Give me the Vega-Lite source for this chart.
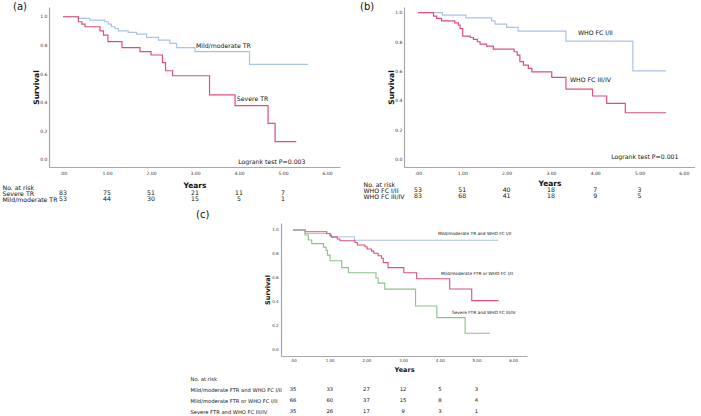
{
  "$schema": "https://vega.github.io/schema/vega-lite/v6.json",
  "padding": {"left": 2, "top": 2, "right": 0, "bottom": 0},
  "config": {
    "view": {"stroke": null},
    "font": "DejaVu Sans",
    "axis": {"domainColor": "#a8a8a8", "domainWidth": 1.2, "ticks": false, "grid": false, "labelColor": "#333", "titleColor": "#111", "labelFont": "DejaVu Sans", "titleFont": "DejaVu Sans", "labelOverlap": false, "labelFlush": false},
    "text": {"font": "DejaVu Sans", "color": "#111"},
    "title": {"font": "DejaVu Sans", "fontWeight": "normal", "color": "#111", "frame": "group"},
    "range": {"category": ["#a9c4ea", "#de4f79", "#a9c4ea", "#de4f79", "#a9c4ea", "#de4f79", "#8fbf8b"]}
  },
  "datasets": {
    "curves": [
      {"panel": "a", "group": "Mild/moderate TR", "t": 0, "s": 1.0},
      {"panel": "a", "group": "Mild/moderate TR", "t": 0.35, "s": 0.989},
      {"panel": "a", "group": "Mild/moderate TR", "t": 0.61, "s": 0.977},
      {"panel": "a", "group": "Mild/moderate TR", "t": 0.95, "s": 0.965},
      {"panel": "a", "group": "Mild/moderate TR", "t": 1.03, "s": 0.949},
      {"panel": "a", "group": "Mild/moderate TR", "t": 1.10, "s": 0.93},
      {"panel": "a", "group": "Mild/moderate TR", "t": 1.18, "s": 0.918},
      {"panel": "a", "group": "Mild/moderate TR", "t": 1.26, "s": 0.902},
      {"panel": "a", "group": "Mild/moderate TR", "t": 1.48, "s": 0.891},
      {"panel": "a", "group": "Mild/moderate TR", "t": 1.67, "s": 0.879},
      {"panel": "a", "group": "Mild/moderate TR", "t": 1.90, "s": 0.856},
      {"panel": "a", "group": "Mild/moderate TR", "t": 2.17, "s": 0.837},
      {"panel": "a", "group": "Mild/moderate TR", "t": 2.43, "s": 0.814},
      {"panel": "a", "group": "Mild/moderate TR", "t": 2.58, "s": 0.784},
      {"panel": "a", "group": "Mild/moderate TR", "t": 3.00, "s": 0.756},
      {"panel": "a", "group": "Mild/moderate TR", "t": 4.24, "s": 0.668},
      {"panel": "a", "group": "Mild/moderate TR", "t": 5.57, "s": 0.668},
      {"panel": "a", "group": "Severe TR", "t": 0, "s": 1.0},
      {"panel": "a", "group": "Severe TR", "t": 0.35, "s": 0.965},
      {"panel": "a", "group": "Severe TR", "t": 0.43, "s": 0.949},
      {"panel": "a", "group": "Severe TR", "t": 0.50, "s": 0.93},
      {"panel": "a", "group": "Severe TR", "t": 0.84, "s": 0.902},
      {"panel": "a", "group": "Severe TR", "t": 0.92, "s": 0.872},
      {"panel": "a", "group": "Severe TR", "t": 1.02, "s": 0.826},
      {"panel": "a", "group": "Severe TR", "t": 1.34, "s": 0.784},
      {"panel": "a", "group": "Severe TR", "t": 1.75, "s": 0.756},
      {"panel": "a", "group": "Severe TR", "t": 2.00, "s": 0.733},
      {"panel": "a", "group": "Severe TR", "t": 2.26, "s": 0.68},
      {"panel": "a", "group": "Severe TR", "t": 2.33, "s": 0.623},
      {"panel": "a", "group": "Severe TR", "t": 2.49, "s": 0.588},
      {"panel": "a", "group": "Severe TR", "t": 3.33, "s": 0.454},
      {"panel": "a", "group": "Severe TR", "t": 3.91, "s": 0.379},
      {"panel": "a", "group": "Severe TR", "t": 4.66, "s": 0.256},
      {"panel": "a", "group": "Severe TR", "t": 4.82, "s": 0.128},
      {"panel": "a", "group": "Severe TR", "t": 5.30, "s": 0.128},
      {"panel": "b", "group": "WHO FC I/II", "t": 0, "s": 1.0},
      {"panel": "b", "group": "WHO FC I/II", "t": 0.55, "s": 0.984},
      {"panel": "b", "group": "WHO FC I/II", "t": 1.08, "s": 0.965},
      {"panel": "b", "group": "WHO FC I/II", "t": 1.66, "s": 0.945},
      {"panel": "b", "group": "WHO FC I/II", "t": 1.74, "s": 0.922},
      {"panel": "b", "group": "WHO FC I/II", "t": 2.00, "s": 0.9},
      {"panel": "b", "group": "WHO FC I/II", "t": 2.26, "s": 0.875},
      {"panel": "b", "group": "WHO FC I/II", "t": 3.34, "s": 0.806},
      {"panel": "b", "group": "WHO FC I/II", "t": 4.85, "s": 0.604},
      {"panel": "b", "group": "WHO FC I/II", "t": 5.60, "s": 0.604},
      {"panel": "b", "group": "WHO FC III/IV", "t": 0, "s": 1.0},
      {"panel": "b", "group": "WHO FC III/IV", "t": 0.35, "s": 0.977},
      {"panel": "b", "group": "WHO FC III/IV", "t": 0.42, "s": 0.961},
      {"panel": "b", "group": "WHO FC III/IV", "t": 0.53, "s": 0.945},
      {"panel": "b", "group": "WHO FC III/IV", "t": 0.83, "s": 0.931},
      {"panel": "b", "group": "WHO FC III/IV", "t": 0.91, "s": 0.915},
      {"panel": "b", "group": "WHO FC III/IV", "t": 0.95, "s": 0.892},
      {"panel": "b", "group": "WHO FC III/IV", "t": 1.01, "s": 0.84},
      {"panel": "b", "group": "WHO FC III/IV", "t": 1.18, "s": 0.831},
      {"panel": "b", "group": "WHO FC III/IV", "t": 1.25, "s": 0.818},
      {"panel": "b", "group": "WHO FC III/IV", "t": 1.34, "s": 0.802},
      {"panel": "b", "group": "WHO FC III/IV", "t": 1.40, "s": 0.786},
      {"panel": "b", "group": "WHO FC III/IV", "t": 1.55, "s": 0.772},
      {"panel": "b", "group": "WHO FC III/IV", "t": 1.70, "s": 0.752},
      {"panel": "b", "group": "WHO FC III/IV", "t": 2.17, "s": 0.734},
      {"panel": "b", "group": "WHO FC III/IV", "t": 2.24, "s": 0.711},
      {"panel": "b", "group": "WHO FC III/IV", "t": 2.30, "s": 0.666},
      {"panel": "b", "group": "WHO FC III/IV", "t": 2.38, "s": 0.643},
      {"panel": "b", "group": "WHO FC III/IV", "t": 2.49, "s": 0.621},
      {"panel": "b", "group": "WHO FC III/IV", "t": 2.57, "s": 0.597},
      {"panel": "b", "group": "WHO FC III/IV", "t": 3.02, "s": 0.559},
      {"panel": "b", "group": "WHO FC III/IV", "t": 3.34, "s": 0.479},
      {"panel": "b", "group": "WHO FC III/IV", "t": 3.94, "s": 0.432},
      {"panel": "b", "group": "WHO FC III/IV", "t": 4.26, "s": 0.382},
      {"panel": "b", "group": "WHO FC III/IV", "t": 4.68, "s": 0.318},
      {"panel": "b", "group": "WHO FC III/IV", "t": 5.60, "s": 0.318},
      {"panel": "c", "group": "Mild/moderate TR and WHO FC I/II", "t": 0, "s": 1.0},
      {"panel": "c", "group": "Mild/moderate TR and WHO FC I/II", "t": 0.33, "s": 0.971},
      {"panel": "c", "group": "Mild/moderate TR and WHO FC I/II", "t": 1.01, "s": 0.943},
      {"panel": "c", "group": "Mild/moderate TR and WHO FC I/II", "t": 1.67, "s": 0.914},
      {"panel": "c", "group": "Mild/moderate TR and WHO FC I/II", "t": 5.59, "s": 0.914},
      {"panel": "c", "group": "Mild/moderate FTR or WHO FC I/II", "t": 0, "s": 1.0},
      {"panel": "c", "group": "Mild/moderate FTR or WHO FC I/II", "t": 0.33, "s": 0.985},
      {"panel": "c", "group": "Mild/moderate FTR or WHO FC I/II", "t": 0.92, "s": 0.97},
      {"panel": "c", "group": "Mild/moderate FTR or WHO FC I/II", "t": 1.01, "s": 0.955},
      {"panel": "c", "group": "Mild/moderate FTR or WHO FC I/II", "t": 1.05, "s": 0.94},
      {"panel": "c", "group": "Mild/moderate FTR or WHO FC I/II", "t": 1.21, "s": 0.925},
      {"panel": "c", "group": "Mild/moderate FTR or WHO FC I/II", "t": 1.28, "s": 0.91},
      {"panel": "c", "group": "Mild/moderate FTR or WHO FC I/II", "t": 1.69, "s": 0.895},
      {"panel": "c", "group": "Mild/moderate FTR or WHO FC I/II", "t": 1.75, "s": 0.875},
      {"panel": "c", "group": "Mild/moderate FTR or WHO FC I/II", "t": 1.96, "s": 0.86},
      {"panel": "c", "group": "Mild/moderate FTR or WHO FC I/II", "t": 2.02, "s": 0.842},
      {"panel": "c", "group": "Mild/moderate FTR or WHO FC I/II", "t": 2.14, "s": 0.824},
      {"panel": "c", "group": "Mild/moderate FTR or WHO FC I/II", "t": 2.20, "s": 0.806},
      {"panel": "c", "group": "Mild/moderate FTR or WHO FC I/II", "t": 2.32, "s": 0.785},
      {"panel": "c", "group": "Mild/moderate FTR or WHO FC I/II", "t": 2.41, "s": 0.764},
      {"panel": "c", "group": "Mild/moderate FTR or WHO FC I/II", "t": 2.46, "s": 0.728},
      {"panel": "c", "group": "Mild/moderate FTR or WHO FC I/II", "t": 2.59, "s": 0.686},
      {"panel": "c", "group": "Mild/moderate FTR or WHO FC I/II", "t": 3.02, "s": 0.644},
      {"panel": "c", "group": "Mild/moderate FTR or WHO FC I/II", "t": 3.37, "s": 0.594},
      {"panel": "c", "group": "Mild/moderate FTR or WHO FC I/II", "t": 4.27, "s": 0.508},
      {"panel": "c", "group": "Mild/moderate FTR or WHO FC I/II", "t": 4.87, "s": 0.411},
      {"panel": "c", "group": "Mild/moderate FTR or WHO FC I/II", "t": 5.60, "s": 0.411},
      {"panel": "c", "group": "Severe FTR and WHO FC III/IV", "t": 0, "s": 1.0},
      {"panel": "c", "group": "Severe FTR and WHO FC III/IV", "t": 0.33, "s": 0.958},
      {"panel": "c", "group": "Severe FTR and WHO FC III/IV", "t": 0.42, "s": 0.917},
      {"panel": "c", "group": "Severe FTR and WHO FC III/IV", "t": 0.51, "s": 0.886},
      {"panel": "c", "group": "Severe FTR and WHO FC III/IV", "t": 0.83, "s": 0.857},
      {"panel": "c", "group": "Severe FTR and WHO FC III/IV", "t": 0.90, "s": 0.829},
      {"panel": "c", "group": "Severe FTR and WHO FC III/IV", "t": 0.94, "s": 0.79},
      {"panel": "c", "group": "Severe FTR and WHO FC III/IV", "t": 1.01, "s": 0.743},
      {"panel": "c", "group": "Severe FTR and WHO FC III/IV", "t": 1.33, "s": 0.686},
      {"panel": "c", "group": "Severe FTR and WHO FC III/IV", "t": 1.51, "s": 0.643},
      {"panel": "c", "group": "Severe FTR and WHO FC III/IV", "t": 2.26, "s": 0.6},
      {"panel": "c", "group": "Severe FTR and WHO FC III/IV", "t": 2.32, "s": 0.557},
      {"panel": "c", "group": "Severe FTR and WHO FC III/IV", "t": 2.50, "s": 0.507},
      {"panel": "c", "group": "Severe FTR and WHO FC III/IV", "t": 3.34, "s": 0.367},
      {"panel": "c", "group": "Severe FTR and WHO FC III/IV", "t": 3.92, "s": 0.27},
      {"panel": "c", "group": "Severe FTR and WHO FC III/IV", "t": 4.69, "s": 0.14},
      {"panel": "c", "group": "Severe FTR and WHO FC III/IV", "t": 5.37, "s": 0.14}
    ],
    "notes": [
      {"panel": "a", "t": 3.02, "s": 0.796, "label": "Mild/moderate TR"},
      {"panel": "a", "t": 3.95, "s": 0.426, "label": "Severe TR"},
      {"panel": "a", "t": 3.98, "s": -0.014, "label": "Logrank test P=0.003"},
      {"panel": "b", "t": 3.61, "s": 0.861, "label": "WHO FC I/II"},
      {"panel": "b", "t": 3.43, "s": 0.541, "label": "WHO FC III/IV"},
      {"panel": "b", "t": 4.36, "s": 0.016, "label": "Logrank test P=0.001"},
      {"panel": "c", "t": 3.95, "s": 0.967, "label": "Mild/moderate TR and WHO FC I/II"},
      {"panel": "c", "t": 4.03, "s": 0.633, "label": "Mild/moderate FTR or WHO FC I/II"},
      {"panel": "c", "t": 4.33, "s": 0.308, "label": "Severe FTR and WHO FC III/IV"}
    ],
    "risk": [
      {"panel": "a", "row": "Severe TR", "t": 0, "n": 83},
      {"panel": "a", "row": "Severe TR", "t": 1, "n": 75},
      {"panel": "a", "row": "Severe TR", "t": 2, "n": 51},
      {"panel": "a", "row": "Severe TR", "t": 3, "n": 21},
      {"panel": "a", "row": "Severe TR", "t": 4, "n": 11},
      {"panel": "a", "row": "Severe TR", "t": 5, "n": 7},
      {"panel": "a", "row": "Mild/moderate TR", "t": 0, "n": 53},
      {"panel": "a", "row": "Mild/moderate TR", "t": 1, "n": 44},
      {"panel": "a", "row": "Mild/moderate TR", "t": 2, "n": 30},
      {"panel": "a", "row": "Mild/moderate TR", "t": 3, "n": 15},
      {"panel": "a", "row": "Mild/moderate TR", "t": 4, "n": 5},
      {"panel": "a", "row": "Mild/moderate TR", "t": 5, "n": 1},
      {"panel": "b", "row": "WHO FC I/II", "t": 0, "n": 53},
      {"panel": "b", "row": "WHO FC I/II", "t": 1, "n": 51},
      {"panel": "b", "row": "WHO FC I/II", "t": 2, "n": 40},
      {"panel": "b", "row": "WHO FC I/II", "t": 3, "n": 18},
      {"panel": "b", "row": "WHO FC I/II", "t": 4, "n": 7},
      {"panel": "b", "row": "WHO FC I/II", "t": 5, "n": 3},
      {"panel": "b", "row": "WHO FC III/IV", "t": 0, "n": 83},
      {"panel": "b", "row": "WHO FC III/IV", "t": 1, "n": 68},
      {"panel": "b", "row": "WHO FC III/IV", "t": 2, "n": 41},
      {"panel": "b", "row": "WHO FC III/IV", "t": 3, "n": 18},
      {"panel": "b", "row": "WHO FC III/IV", "t": 4, "n": 9},
      {"panel": "b", "row": "WHO FC III/IV", "t": 5, "n": 5},
      {"panel": "c", "row": "Mild/moderate FTR and WHO FC I/II", "t": 0, "n": 35},
      {"panel": "c", "row": "Mild/moderate FTR and WHO FC I/II", "t": 1, "n": 33},
      {"panel": "c", "row": "Mild/moderate FTR and WHO FC I/II", "t": 2, "n": 27},
      {"panel": "c", "row": "Mild/moderate FTR and WHO FC I/II", "t": 3, "n": 12},
      {"panel": "c", "row": "Mild/moderate FTR and WHO FC I/II", "t": 4, "n": 5},
      {"panel": "c", "row": "Mild/moderate FTR and WHO FC I/II", "t": 5, "n": 3},
      {"panel": "c", "row": "Mild/moderate FTR or WHO FC I/II", "t": 0, "n": 66},
      {"panel": "c", "row": "Mild/moderate FTR or WHO FC I/II", "t": 1, "n": 60},
      {"panel": "c", "row": "Mild/moderate FTR or WHO FC I/II", "t": 2, "n": 37},
      {"panel": "c", "row": "Mild/moderate FTR or WHO FC I/II", "t": 3, "n": 15},
      {"panel": "c", "row": "Mild/moderate FTR or WHO FC I/II", "t": 4, "n": 8},
      {"panel": "c", "row": "Mild/moderate FTR or WHO FC I/II", "t": 5, "n": 4},
      {"panel": "c", "row": "Severe FTR and WHO FC III/IV", "t": 0, "n": 35},
      {"panel": "c", "row": "Severe FTR and WHO FC III/IV", "t": 1, "n": 26},
      {"panel": "c", "row": "Severe FTR and WHO FC III/IV", "t": 2, "n": 17},
      {"panel": "c", "row": "Severe FTR and WHO FC III/IV", "t": 3, "n": 9},
      {"panel": "c", "row": "Severe FTR and WHO FC III/IV", "t": 4, "n": 3},
      {"panel": "c", "row": "Severe FTR and WHO FC III/IV", "t": 5, "n": 1}
    ]
  },
  "vconcat": [
    {
      "hconcat": [
        {
          "vconcat": [
            {
              "width": 291, "height": 160,
              "title": {"text": "(a)", "anchor": "start", "dx": -36, "fontSize": 10, "offset": 0, "dy": 5},
              "layer": [
                {
                  "data": {"name": "curves"},
                  "transform": [{"filter": "datum.panel == 'a'"}],
                  "mark": {"type": "line", "interpolate": "step-after", "strokeWidth": 1.2},
                  "encoding": {
                    "x": {"field": "t", "type": "quantitative", "scale": {"domain": [-0.318, 6.295], "nice": false, "zero": false},
                      "axis": {"values": [0, 1, 2, 3, 4, 5, 6], "tickCount": 7, "labelExpr": "datum.value == 0 ? '.00' : format(datum.value, '.2f')", "labelFontSize": 4.5, "labelPadding": 3.5, "title": "Years", "titleFontSize": 7.5, "titleFontWeight": "bold", "titlePadding": 6}},
                    "y": {"field": "s", "type": "quantitative", "scale": {"domain": [-0.049, 1.068], "nice": false, "zero": false},
                      "axis": {"values": [0, 0.2, 0.4, 0.6, 0.8, 1], "tickCount": 6, "format": ".1f", "labelFontSize": 4.5, "labelPadding": 2, "title": "Survival", "titleFontSize": 7.5, "titleFontWeight": "bold", "titlePadding": -1}},
                    "color": {"field": "group", "type": "nominal", "legend": null,
                      "scale": {"domain": ["Mild/moderate TR", "Severe TR", "WHO FC I/II", "WHO FC III/IV", "Mild/moderate TR and WHO FC I/II", "Mild/moderate FTR or WHO FC I/II", "Severe FTR and WHO FC III/IV"]}}
                  }
                },
                {
                  "data": {"name": "notes"},
                  "transform": [{"filter": "datum.panel == 'a'"}],
                  "mark": {"type": "text", "align": "left", "baseline": "middle", "fontSize": 6.2},
                  "encoding": {
                    "x": {"field": "t", "type": "quantitative"},
                    "y": {"field": "s", "type": "quantitative"},
                    "text": {"field": "label"}
                  }
                }
              ]
            },
            {
              "width": 291, "height": 12,
              "data": {"name": "risk"},
              "transform": [{"filter": "datum.panel == 'a'"}],
              "mark": {"type": "text", "fontSize": 6.2},
              "encoding": {
                "x": {"field": "t", "type": "quantitative", "scale": {"domain": [-0.318, 6.295], "nice": false, "zero": false}, "axis": null},
                "y": {"field": "row", "type": "nominal", "scale": {"type": "point", "padding": 0, "domain": ["No. at risk", "Severe TR", "Mild/moderate TR"]},
                  "axis": {"title": null, "domain": false, "ticks": false, "tickSize": 0, "labelAlign": "left", "labelPadding": 47, "labelFontSize": 6.2, "labelColor": "#111"}},
                "text": {"field": "n"}
              }
            }
          ],
          "spacing": 20,
          "bounds": "flush"
        },
        {
          "vconcat": [
            {
              "width": 291, "height": 160,
              "title": {"text": "(b)", "anchor": "start", "dx": -44, "fontSize": 10, "offset": 0, "dy": 5},
              "layer": [
                {
                  "data": {"name": "curves"},
                  "transform": [{"filter": "datum.panel == 'b'"}],
                  "mark": {"type": "line", "interpolate": "step-after", "strokeWidth": 1.2},
                  "encoding": {
                    "x": {"field": "t", "type": "quantitative", "scale": {"domain": [-0.316, 6.253], "nice": false, "zero": false},
                      "axis": {"values": [0, 1, 2, 3, 4, 5, 6], "tickCount": 7, "labelExpr": "datum.value == 0 ? '.00' : format(datum.value, '.2f')", "labelFontSize": 4.5, "labelPadding": 3.5, "title": "Years", "titleFontSize": 7.5, "titleFontWeight": "bold", "titlePadding": 4}},
                    "y": {"field": "s", "type": "quantitative", "scale": {"domain": [-0.052, 1.039], "nice": false, "zero": false},
                      "axis": {"values": [0, 0.2, 0.4, 0.6, 0.8, 1], "tickCount": 6, "format": ".1f", "labelFontSize": 4.5, "labelPadding": 2, "title": "Survival", "titleFontSize": 7.5, "titleFontWeight": "bold", "titlePadding": -1}},
                    "color": {"field": "group", "type": "nominal", "legend": null,
                      "scale": {"domain": ["Mild/moderate TR", "Severe TR", "WHO FC I/II", "WHO FC III/IV", "Mild/moderate TR and WHO FC I/II", "Mild/moderate FTR or WHO FC I/II", "Severe FTR and WHO FC III/IV"]}}
                  }
                },
                {
                  "data": {"name": "notes"},
                  "transform": [{"filter": "datum.panel == 'b'"}],
                  "mark": {"type": "text", "align": "left", "baseline": "middle", "fontSize": 6.2},
                  "encoding": {
                    "x": {"field": "t", "type": "quantitative"},
                    "y": {"field": "s", "type": "quantitative"},
                    "text": {"field": "label"}
                  }
                }
              ]
            },
            {
              "width": 291, "height": 12,
              "data": {"name": "risk"},
              "transform": [{"filter": "datum.panel == 'b'"}],
              "mark": {"type": "text", "fontSize": 6.2},
              "encoding": {
                "x": {"field": "t", "type": "quantitative", "scale": {"domain": [-0.316, 6.253], "nice": false, "zero": false}, "axis": null},
                "y": {"field": "row", "type": "nominal", "scale": {"type": "point", "padding": 0, "domain": ["No. at risk", "WHO FC I/II", "WHO FC III/IV"]},
                  "axis": {"title": null, "domain": false, "ticks": false, "tickSize": 0, "labelAlign": "left", "labelPadding": 41, "labelFontSize": 6.2, "labelColor": "#111"}},
                "text": {"field": "n"}
              }
            }
          ],
          "spacing": 17,
          "bounds": "flush"
        }
      ],
      "spacing": 20
    },
    {
      "hconcat": [
        {"width": 224, "height": 1, "data": {"values": []}, "mark": "point"},
        {
          "vconcat": [
            {
              "width": 246, "height": 133,
              "title": {"text": "(c)", "anchor": "start", "dx": -85, "fontSize": 10, "offset": 3},
              "layer": [
                {
                  "data": {"name": "curves"},
                  "transform": [{"filter": "datum.panel == 'c'"}],
                  "mark": {"type": "line", "interpolate": "step-after", "strokeWidth": 1.1},
                  "encoding": {
                    "x": {"field": "t", "type": "quantitative", "scale": {"domain": [-0.327, 6.376], "nice": false, "zero": false},
                      "axis": {"values": [0, 1, 2, 3, 4, 5, 6], "tickCount": 7, "labelExpr": "datum.value == 0 ? '.00' : format(datum.value, '.2f')", "labelFontSize": 4, "labelPadding": 2, "title": "Years", "titleFontSize": 6.5, "titleFontWeight": "bold", "titlePadding": 4.5}},
                    "y": {"field": "s", "type": "quantitative", "scale": {"domain": [-0.05, 1.058], "nice": false, "zero": false},
                      "axis": {"values": [0, 0.2, 0.4, 0.6, 0.8, 1], "tickCount": 6, "format": ".1f", "labelFontSize": 4, "labelPadding": 3, "title": "Survival", "titleFontSize": 6.5, "titleFontWeight": "bold", "titlePadding": 1}},
                    "color": {"field": "group", "type": "nominal", "legend": null,
                      "scale": {"domain": ["Mild/moderate TR", "Severe TR", "WHO FC I/II", "WHO FC III/IV", "Mild/moderate TR and WHO FC I/II", "Mild/moderate FTR or WHO FC I/II", "Severe FTR and WHO FC III/IV"]}}
                  }
                },
                {
                  "data": {"name": "notes"},
                  "transform": [{"filter": "datum.panel == 'c'"}],
                  "mark": {"type": "text", "align": "left", "baseline": "middle", "fontSize": 4.3},
                  "encoding": {
                    "x": {"field": "t", "type": "quantitative"},
                    "y": {"field": "s", "type": "quantitative"},
                    "text": {"field": "label"}
                  }
                }
              ]
            },
            {
              "width": 246, "height": 33,
              "data": {"name": "risk"},
              "transform": [{"filter": "datum.panel == 'c'"}],
              "mark": {"type": "text", "fontSize": 5.2},
              "encoding": {
                "x": {"field": "t", "type": "quantitative", "scale": {"domain": [-0.327, 6.376], "nice": false, "zero": false}, "axis": null},
                "y": {"field": "row", "type": "nominal", "scale": {"type": "point", "padding": 0, "domain": ["No. at risk", "Mild/moderate FTR and WHO FC I/II", "Mild/moderate FTR or WHO FC I/II", "Severe FTR and WHO FC III/IV"]},
                  "axis": {"title": null, "domain": false, "ticks": false, "tickSize": 0, "labelAlign": "left", "labelPadding": 91, "labelFontSize": 5.2, "labelColor": "#111"}},
                "text": {"field": "n"}
              }
            }
          ],
          "spacing": 22,
          "bounds": "flush"
        }
      ],
      "spacing": 8,
      "bounds": "flush"
    }
  ],
  "spacing": 7
}
